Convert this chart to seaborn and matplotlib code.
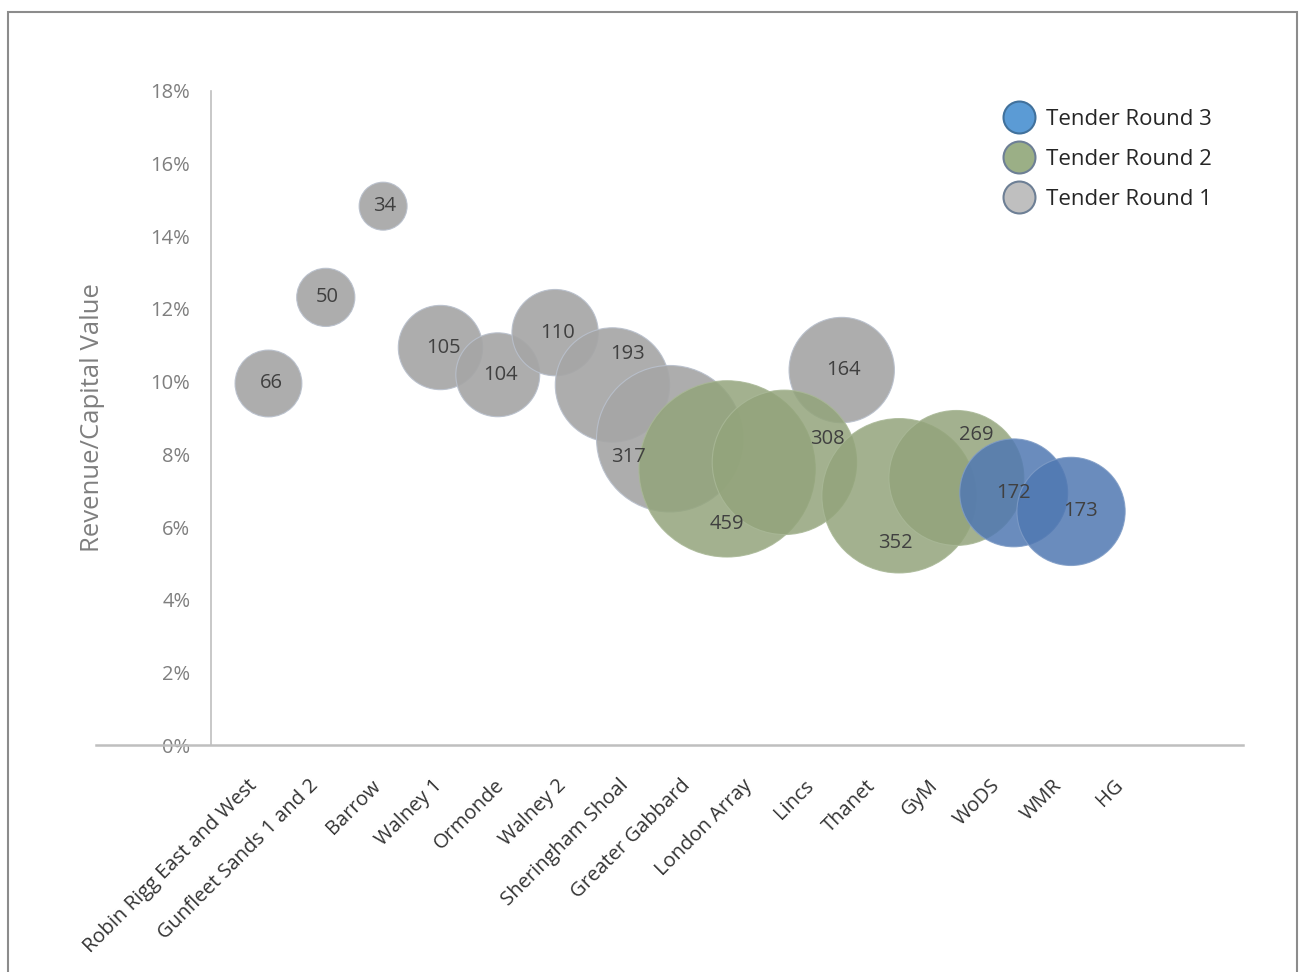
import numpy as np
import pandas as pd
import matplotlib.pyplot as plt
import seaborn as sns
from matplotlib.lines import Line2D
from matplotlib.patches import Rectangle
from matplotlib.ticker import PercentFormatter

# --- Data ---
PROJECTS = ["Robin Rigg East and West", "Gunfleet Sands 1 and 2", "Barrow", "Walney 1",
            "Ormonde", "Walney 2", "Sheringham Shoal", "Greater Gabbard", "London Array",
            "Lincs", "Thanet", "GyM", "WoDS", "WMR", "HG"]
CAPACITY = [66, 50, 34, 105, 104, 110, 193, 317, 459, 308, 164, 352, 269, 172, 173]
REVENUE_RATIO = [9.95, 12.32, 14.83, 10.94, 10.19, 11.35, 9.91, 8.43, 7.60, 7.78,
                 10.32, 6.86, 7.35, 6.94, 6.43]
TENDER_ROUND = [1, 1, 1, 1, 1, 1, 1, 1, 2, 2, 1, 2, 2, 3, 3]

# --- Style / layout ---
ROUND_STYLE = {
    1: {'face': '#A6A6A6', 'edge': '#B9C0CC', 'alpha': 0.92},
    2: {'face': '#93A47B', 'edge': '#A9B897', 'alpha': 0.85},
    3: {'face': '#5078B2', 'edge': '#7F9CC6', 'alpha': 0.85},
}
LEGEND_STYLE = {
    3: ('#5B9BD5', '#41719C'),
    2: ('#9BAF86', '#6D7F95'),
    1: ('#BFBFBF', '#6D7F95'),
}
BUBBLE_AREA_PER_MW = 35.1       # points^2 per unit of bubble value
# data-label offsets (points) so labels sit where Excel put them
LABEL_OFFSETS = [(2, 0), (1, 0), (1, 0), (2, 0), (2, 0), (2, 0), (11, 22), (-30, -13),
                 (0, -40), (31, 17), (1, 0), (-3, -34), (14, 31), (0, 0), (7, 0)]
LABEL_START, LABEL_PITCH = 0.62, 1.08   # category text sits on its own spacing

FONT = ['Open Sans', 'DejaVu Sans']

sns.set_style("white")
plt.rcParams['font.family'] = FONT

df = pd.DataFrame({
    'project': PROJECTS,
    'capacity': CAPACITY,
    'ratio': REVENUE_RATIO,
    'round': TENDER_ROUND,
})
df['x'] = np.arange(1, len(df) + 1)

fig = plt.figure(figsize=(13.02, 9.72), dpi=100)
ax = fig.add_axes([0.0741, 0.2335, 0.8806, 0.6729])

# series drawn round by round, like the original
for r in [1, 2, 3]:
    st = ROUND_STYLE[r]
    sns.scatterplot(data=df[df['round'] == r], x='x', y='ratio', size='capacity',
                    sizes=(min(CAPACITY) * BUBBLE_AREA_PER_MW, max(CAPACITY) * BUBBLE_AREA_PER_MW),
                    size_norm=(min(CAPACITY), max(CAPACITY)),
                    color=st['face'], edgecolor=st['edge'], linewidth=0.8,
                    alpha=st['alpha'], legend=False, ax=ax, zorder=2 + r)

for i, row in df.iterrows():
    ax.annotate(str(row['capacity']), (row['x'], row['ratio']), xytext=LABEL_OFFSETS[i],
                textcoords='offset points', ha='center', va='center',
                fontsize=14.5, color='#404040', zorder=10)

ax.set_xlim(-2, 18)
ax.set_ylim(0, 18)
ax.set_yticks(np.arange(0, 19, 2))
ax.yaxis.set_major_formatter(PercentFormatter(100, decimals=0))
ax.tick_params(axis='y', length=0, pad=15, labelsize=14.5, labelcolor='#7F7F7F')

ax.set_xticks(LABEL_START + LABEL_PITCH * np.arange(len(PROJECTS)))
ax.set_xticklabels(PROJECTS, rotation=45, ha='right', rotation_mode='anchor')
ax.tick_params(axis='x', length=0, pad=22, labelsize=14.5, labelcolor='#333333')
ax.set_xlabel('')

ax.set_ylabel('Revenue/Capital Value', fontsize=18.5, color='#7F7F7F')
ax.yaxis.set_label_coords(0.0075, 0.5)

sns.despine(ax=ax, top=True, right=True)
ax.spines['left'].set_position(('data', 0))
ax.spines['left'].set_color('#BFBFBF')
ax.spines['left'].set_linewidth(1.2)
ax.spines['bottom'].set_color('#BFBFBF')
ax.spines['bottom'].set_linewidth(1.8)
ax.grid(False)

handles = [Line2D([], [], marker='o', ls='', markersize=23, markerfacecolor=LEGEND_STYLE[r][0],
                  markeredgecolor=LEGEND_STYLE[r][1], markeredgewidth=1.5) for r in [3, 2, 1]]
ax.legend(handles, ['Tender Round 3', 'Tender Round 2', 'Tender Round 1'],
          loc='upper left', bbox_to_anchor=(0.769, 0.888), bbox_transform=fig.transFigure,
          frameon=False, fontsize=16, handlelength=1.6, handletextpad=0.43,
          labelspacing=0.85, borderpad=0, borderaxespad=0)

# outer frame around the chart
fig.patches.append(Rectangle((8 / 1302, -0.02), 1289 / 1302, 1.02 - 12 / 972,
                             transform=fig.transFigure, fill=False,
                             edgecolor='#8C8C8C', linewidth=1.5))

fig.savefig('out.png', dpi=100)
